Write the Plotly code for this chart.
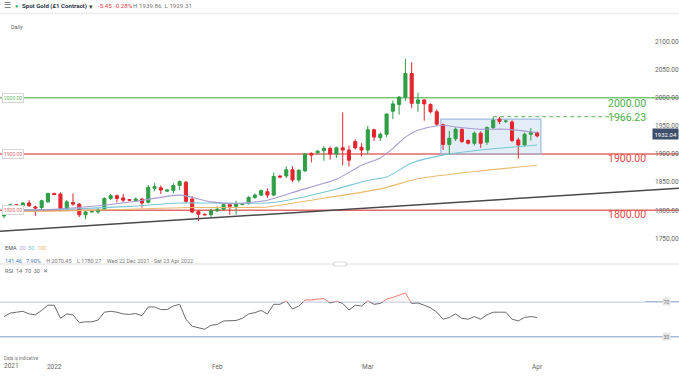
import plotly.graph_objects as go

# ---------------- data ----------------
DATES = [
    "2021-12-22", "2021-12-23", "2021-12-24", "2021-12-27", "2021-12-28", "2021-12-29", "2021-12-30", "2021-12-31",
    "2022-01-02", "2022-01-03", "2022-01-04", "2022-01-05", "2022-01-06", "2022-01-07",
    "2022-01-09", "2022-01-10", "2022-01-11", "2022-01-12", "2022-01-13", "2022-01-14",
    "2022-01-16", "2022-01-17", "2022-01-18", "2022-01-19", "2022-01-20", "2022-01-21",
    "2022-01-23", "2022-01-24", "2022-01-25", "2022-01-26", "2022-01-27", "2022-01-28",
    "2022-01-30", "2022-01-31", "2022-02-01", "2022-02-02", "2022-02-03", "2022-02-04",
    "2022-02-06", "2022-02-07", "2022-02-08", "2022-02-09", "2022-02-10", "2022-02-11",
    "2022-02-13", "2022-02-14", "2022-02-15", "2022-02-16", "2022-02-17", "2022-02-18",
    "2022-02-20", "2022-02-21", "2022-02-22", "2022-02-23", "2022-02-24", "2022-02-25",
    "2022-02-27", "2022-02-28", "2022-03-01", "2022-03-02", "2022-03-03", "2022-03-04",
    "2022-03-06", "2022-03-07", "2022-03-08", "2022-03-09", "2022-03-10", "2022-03-11",
    "2022-03-13", "2022-03-14", "2022-03-15", "2022-03-16", "2022-03-17", "2022-03-18",
    "2022-03-20", "2022-03-21", "2022-03-22", "2022-03-23", "2022-03-24", "2022-03-25",
    "2022-03-27", "2022-03-28", "2022-03-29", "2022-03-30", "2022-03-31", "2022-04-01",
]
OPEN = [1790, 1804, 1810, 1808, 1813, 1806, 1805, 1815,
        1830, 1829, 1803, 1814, 1811, 1792,
        1797, 1797, 1802, 1821, 1826, 1822,
        1819, 1817, 1820, 1814, 1839, 1840,
        1834, 1835, 1844, 1850, 1820, 1798,
        1793, 1792, 1799, 1802, 1810, 1807,
        1810, 1812, 1823, 1827, 1833, 1827,
        1861, 1861, 1872, 1854, 1870, 1901,
        1902, 1906, 1910, 1900, 1911, 1907,
        1922, 1912, 1907, 1943, 1929, 1935,
        1976, 1988, 2001, 2043, 1990, 1996,
        1988, 1975, 1952, 1917, 1927, 1944,
        1924, 1919, 1937, 1921, 1947, 1962,
        1958, 1957, 1925, 1916, 1935, 1937.49]
HIGH = [1797, 1812, 1811, 1815, 1818, 1808, 1819, 1831,
        1831, 1832, 1818, 1830, 1813, 1799,
        1799, 1804, 1823, 1829, 1828, 1829,
        1820, 1823, 1822, 1845, 1848, 1844,
        1837, 1848, 1853, 1852, 1825, 1800,
        1794, 1803, 1807, 1812, 1811, 1817,
        1813, 1825, 1830, 1837, 1839, 1867,
        1862, 1878, 1878, 1873, 1902, 1903,
        1907, 1914, 1913, 1913, 1974, 1915,
        1926, 1919, 1950, 1945, 1938, 1972,
        1995, 2003, 2069, 2063, 2009, 1997,
        1990, 1979, 1954, 1941, 1947, 1945,
        1926, 1940, 1940, 1949, 1966, 1966,
        1961, 1960, 1929, 1938, 1946, 1939.86]
LOW = [1786, 1801, 1807, 1806, 1806, 1790, 1802, 1813,
       1827, 1799, 1800, 1808, 1788, 1784,
       1796, 1794, 1800, 1818, 1814, 1814,
       1817, 1815, 1805, 1812, 1834, 1829,
       1833, 1830, 1836, 1813, 1795, 1781,
       1791, 1788, 1797, 1800, 1792, 1792,
       1809, 1810, 1820, 1825, 1822, 1825,
       1857, 1857, 1850, 1850, 1868, 1885,
       1900, 1888, 1890, 1893, 1880, 1878,
       1908, 1896, 1900, 1923, 1923, 1930,
       1962, 1970, 1994, 1981, 1975, 1959,
       1972, 1950, 1907, 1899, 1923, 1920,
       1917, 1915, 1911, 1916, 1944, 1953,
       1955, 1921, 1892, 1913, 1924, 1929.31]
CLOSE = [1795, 1810, 1808, 1813, 1808, 1804, 1817, 1830,
         1828, 1803, 1815, 1811, 1792, 1797,
         1798, 1801, 1821, 1826, 1821, 1818,
         1818, 1820, 1813, 1841, 1842, 1836,
         1836, 1844, 1851, 1816, 1797, 1793,
         1792, 1799, 1802, 1810, 1807, 1811,
         1812, 1823, 1827, 1835, 1827, 1860,
         1859, 1872, 1854, 1871, 1900, 1898,
         1905, 1910, 1900, 1911, 1907, 1889,
         1911, 1907, 1943, 1930, 1935, 1971,
         1989, 2001, 2043, 1990, 1996, 1989,
         1975, 1953, 1917, 1928, 1944, 1922,
         1919, 1937, 1919, 1947, 1960, 1958,
         1958.5, 1924, 1916, 1935, 1938, 1932.04]
RSI = [53, 57, 58, 59, 56, 55, 60, 66,
       66, 51, 56, 55, 46, 47,
       47, 49, 58, 59, 58, 56,
       55.5, 56.5, 54, 64, 64, 61,
       61, 65, 67, 50, 42, 40,
       38.5, 43, 44, 48, 48, 48.5,
       51, 56, 57.5, 60, 56, 67,
       67, 71, 61.6, 65, 72, 72,
       73, 73.5, 68.5, 70.7, 68, 60.5,
       66, 65, 71, 67, 68, 73,
       75, 77.6, 80, 68, 68.5, 66,
       63, 58, 50, 52, 56, 51,
       50, 53, 50, 55, 58, 58,
       58, 50, 48, 52, 53, 52]

EMA20_IDX = [0, 8, 15, 21, 28, 33, 37, 42, 47, 53, 57, 60, 62, 64, 66, 68, 70, 72, 76, 80, 85]
EMA20 = [1800, 1802, 1808, 1816, 1827, 1815, 1812, 1818, 1835, 1855, 1880, 1893, 1910, 1930, 1942, 1948, 1951, 1948, 1944, 1944, 1938]
EMA50_IDX = [0, 10, 20, 28, 33, 42, 47, 53, 58, 61, 65, 70, 76, 85]
EMA50 = [1800, 1802, 1807, 1813, 1813, 1813, 1822, 1838, 1853, 1859, 1884, 1898, 1907, 1916]
EMA100_IDX = [0, 10, 20, 30, 42, 49, 60, 66, 76, 85]
EMA100 = [1797, 1799, 1802, 1805, 1806, 1818, 1838, 1856, 1870, 1880]

LEVELS = [2000.00, 1900.00, 1800.00]
LEVEL_COLORS = ["#7cc47a", "#e26a6a", "#e26a6a"]
LEVEL_TEXT_COLORS = ["#4cae4c", "#e04848", "#e04848"]
RESIST = 1966.23
BOX_LOW, BOX_HIGH = 1900, 1962
TREND_Y = [1763, 1839]
MONTH_TICKS = ["2022-01-02", "2022-02-01", "2022-03-01", "2022-04-01"]
MONTH_TEXT = ["2022", "Feb", "Mar", "Apr"]
LAST_PRICE = 1932.04

W, H = 679, 381
PLOT_R = 645


def px(x):
    return x / PLOT_R


def py(y):
    return 1 - y / H


FONT = "Roboto"
fig = go.Figure()

fig.add_trace(go.Candlestick(
    x=DATES, open=OPEN, high=HIGH, low=LOW, close=CLOSE,
    increasing=dict(line=dict(color="#2f9e44", width=1), fillcolor="#2f9e44"),
    decreasing=dict(line=dict(color="#e3262d", width=1), fillcolor="#e3262d"),
    xaxis="x", yaxis="y", showlegend=False, hoverinfo="skip"))

for idx, vals, col in [(EMA100_IDX, EMA100, "#e9b96e"),
                       (EMA50_IDX, EMA50, "#78c6d6"),
                       (EMA20_IDX, EMA20, "#a99bd0")]:
    fig.add_trace(go.Scatter(x=[DATES[i] for i in idx], y=vals, mode="lines",
                             line=dict(color=col, width=1.1, shape="spline", smoothing=0.6),
                             xaxis="x", yaxis="y", showlegend=False, hoverinfo="skip"))

fig.add_trace(go.Scatter(x=DATES, y=RSI, mode="lines", line=dict(color="#6b6b6b", width=1),
                         xaxis="x2", yaxis="y2", showlegend=False, hoverinfo="skip"))
fig.add_trace(go.Scatter(x=DATES, y=RSI, mode="lines", line=dict(color="#f07a7a", width=1),
                         fill="tozeroy", fillcolor="rgba(240,120,120,0.07)",
                         xaxis="x2", yaxis="y3", showlegend=False, hoverinfo="skip"))

xr = [-0.64, 102.2]
price_top, price_bot = 30, 258
rsi_top, rsi_bot = 270, 357
y70 = 301.7

fig.update_layout(
    width=W, height=H, margin=dict(l=0, r=W - PLOT_R, t=0, b=0),
    paper_bgcolor="white", plot_bgcolor="white",
    font=dict(family=FONT, color="#555", size=7),
    xaxis=dict(domain=[0, 1], type="category", categoryorder="array", categoryarray=DATES,
               range=xr, showticklabels=False, showgrid=False, zeroline=False,
               rangeslider=dict(visible=False), anchor="y", fixedrange=True),
    yaxis=dict(domain=[py(price_bot), py(price_top)], range=[1715.3, 2120.2], side="right",
               tickvals=[1750, 1800, 1850, 1900, 1950, 2000, 2050, 2100], tickformat=".2f",
               tickfont=dict(size=6.5, color="#666"), showgrid=False, zeroline=False,
               ticks="", ticklabelstandoff=9, anchor="x"),
    xaxis2=dict(domain=[0, 1], type="category", categoryorder="array", categoryarray=DATES,
                range=xr, showgrid=False, zeroline=False, anchor="y2", matches="x",
                tickvals=MONTH_TICKS, ticktext=MONTH_TEXT, tickfont=dict(size=6.5, color="#666"),
                ticks="", ticklabelstandoff=4),
    yaxis2=dict(domain=[py(rsi_bot), py(rsi_top)], range=[6.8, 106.2], side="right",
                tickvals=[30, 70], showticklabels=False, showgrid=False, zeroline=False, anchor="x2"),
    yaxis3=dict(domain=[py(y70), py(rsi_top)], range=[70, 106.2], visible=False, anchor="x2"),
)

shapes = []
for lv, c in zip(LEVELS, LEVEL_COLORS):
    shapes.append(dict(type="line", xref="paper", yref="y", x0=0, x1=px(W), y0=lv, y1=lv,
                       line=dict(color=c, width=1.5), layer="below"))
shapes.append(dict(type="line", xref="paper", yref="y", x0=0, x1=px(W), y0=TREND_Y[0], y1=TREND_Y[1],
                   line=dict(color="#4a4a4a", width=1.5), layer="above"))
shapes.append(dict(type="rect", xref="x", yref="y", x0=DATES.index("2022-03-15") - 0.35,
                   x1=DATES.index("2022-04-01") + 0.6, y0=BOX_LOW, y1=BOX_HIGH,
                   line=dict(color="#9dbbe0", width=1.2), fillcolor="rgba(173,203,235,0.35)", layer="below"))
shapes.append(dict(type="line", xref="x", yref="y", x0=DATES.index("2022-03-24"), x1=97.3,
                   y0=RESIST, y1=RESIST, line=dict(color="#7cc47a", width=1.3, dash="4px,3px")))
for v in [70, 30]:
    shapes.append(dict(type="line", xref="paper", yref="y2", x0=0, x1=px(W), y0=v, y1=v,
                       line=dict(color="#a9bcd4", width=1.5), layer="below"))
shapes.append(dict(type="line", xref="paper", yref="paper", x0=0, x1=px(W), y0=py(264), y1=py(264),
                   line=dict(color="#dcdcdc", width=1)))
shapes.append(dict(type="rect", xref="paper", yref="paper", x0=px(334), x1=px(346), y0=py(262), y1=py(266),
                   line=dict(color="#cfcfcf", width=0.8), fillcolor="white"))
shapes.append(dict(type="line", xref="paper", yref="paper", x0=0, x1=px(W), y0=py(13.5), y1=py(13.5),
                   line=dict(color="#ececec", width=1.5)))
fig.update_layout(shapes=shapes)

ann = []


def text(x, y, s, size=6, color="#555", xanchor="left", **kw):
    ann.append(dict(x=px(x), y=py(y), xref="paper", yref="paper", text=s, showarrow=False,
                    xanchor=xanchor, yanchor="middle", font=dict(size=size, color=color, family=FONT), **kw))


# header
text(2, 6, "☰", size=7.5, color="#666")
text(13, 6, "●", size=5.5, color="#2fa84f")
text(20, 6, "<b>Spot Gold (£1 Contract)</b>", size=6.1, color="#27324a")
text(87, 6.5, "▾", size=6.5, color="#444")
text(96, 6, "-5.45", size=6.2, color="#e0393e")
text(112, 6, "-0.28%", size=6.2, color="#e0393e")
text(131, 6, "H 1939.86  L 1929.31", size=6.2, color="#777")
text(9, 27, "Daily", size=5.5, color="#666")

for lv, c, yy in [(2000.00, LEVEL_TEXT_COLORS[0], 103.5), (1900.00, LEVEL_TEXT_COLORS[1], 159),
                  (1800.00, LEVEL_TEXT_COLORS[2], 214.5)]:
    text(648, yy, f"{lv:.2f}", size=10.5, color=c, xanchor="right")
text(648, 117, f"{RESIST:.2f}", size=10.5, color=LEVEL_TEXT_COLORS[0], xanchor="right")

for lv, c, yy in [(2000.00, "#6cb86a", 98), (1900.00, "#e07070", 154), (1800.00, "#e07070", 210)]:
    text(2, yy, f"{lv:.2f}", size=5, color=c, bgcolor="white", bordercolor="#d6d6d6",
         borderwidth=1, borderpad=1)

text(652, 134, f"{LAST_PRICE:.2f}", size=6, color="white", bgcolor="#3e4f6b", borderpad=1.5)

text(3, 248, "EMA  <span style='color:#a99bd0'>20</span>  <span style='color:#78c6d6'>50</span>  "
     "<span style='color:#e9b96e'>100</span>", size=5.5, color="#555")
text(3, 260.5, "<span style='color:#4a78b0'>141.46</span>   <span style='color:#4a78b0'>7.90%</span>"
     "    H 2070.45    L 1780.27    Wed 22 Dec 2021 - Sat 23 Apr 2022", size=5.5, color="#777")
text(3, 271, "RSI  14  70  30  ✕", size=5.5, color="#666")

text(662, 301.7, "70", size=5, color="#777", bgcolor="#e6e6e6", borderpad=0.5)
text(662, 336.7, "30", size=5, color="#777", bgcolor="#e6e6e6", borderpad=0.5)

text(2, 358, "Data is indicative", size=4.5, color="#777")
text(2, 366, "2021", size=6.5, color="#666")

fig.update_layout(annotations=ann)
fig.write_html("out.html", config={"displayModeBar": False},
               post_script="document.body.style.margin='0';document.body.style.overflow='hidden';")
